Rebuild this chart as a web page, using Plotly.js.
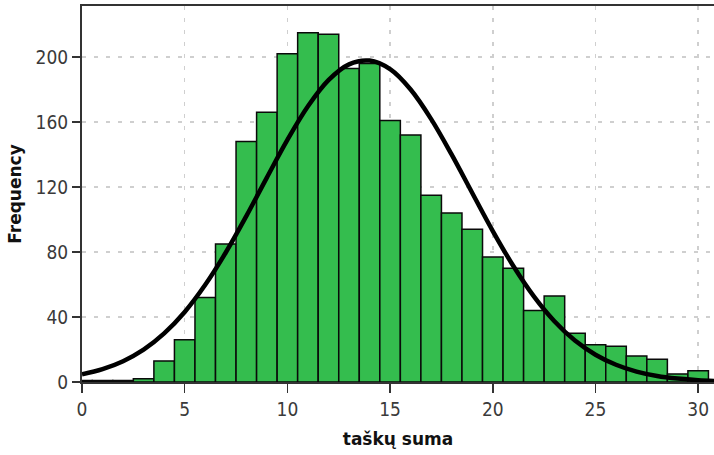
<!DOCTYPE html>
<html>
<head>
<meta charset="utf-8">
<script src="https://cdn.plot.ly/plotly-3.0.1.min.js"></script>
<style>html,body{margin:0;padding:0;background:#fff;}#chart{width:714px;height:455px;}</style>
</head>
<body>
<div id="chart"></div>
<script>
// Histogram bins (centres) and frequencies
const binCenters = [0,1,2,3,4,5,6,7,8,9,10,11,12,13,14,15,16,17,18,19,20,21,22,23,24,25,26,27,28,29,30];
const frequencies = [1,1,1,2,13,26,52,85,148,166,202,215,214,193,196,161,152,115,104,94,77,70,44,53,30,23,22,16,14,5,7];
// Normal curve points
const curveX = [0,1,2,3,4,5,6,7,8,9,10,11,12,13,14,15,16,17,18,19,20,21,22,23,24,25,26,27,28,29,30,31];
const curveY = [4.7,7.9,12.8,19.9,29.9,43.1,59.8,79.7,102.1,125.8,149.0,169.7,185.8,195.5,197.8,192.5,180.0,161.8,139.9,116.3,92.9,71.4,52.7,37.4,25.5,16.8,10.6,6.4,3.7,2.1,1.1,0.6];
const xTicks = [0,5,10,15,20,25,30];
const yTicks = [0,40,80,120,160,200];
const xTitle = "taškų suma";
const yTitle = "Frequency";

const tickFont = {family: "'Liberation Sans Narrow', 'DejaVu Sans Condensed', 'Liberation Sans', sans-serif", size: 19, color: '#3a3a3a'};
const titleFont = {family: "'DejaVu Sans', sans-serif", size: 17, color: '#111', weight: 'bold'};

const data = [
  {type: 'bar', x: binCenters, y: frequencies, width: 1,
   marker: {color: 'rgb(52,189,78)', line: {color: '#0a0a0a', width: 1.5}},
   hoverinfo: 'none'},
  {type: 'scatter', mode: 'lines', x: curveX, y: curveY,
   line: {color: '#000', width: 4.5, shape: 'spline'}, hoverinfo: 'none'}
];

const layout = {
  width: 714, height: 455,
  margin: {l: 82, r: 0, t: 6, b: 73},
  paper_bgcolor: '#fff', plot_bgcolor: '#fff',
  showlegend: false, bargap: 0,
  xaxis: {
    range: [0, 30.77], tickvals: xTicks, ticktext: xTicks.map(String),
    showgrid: true, gridcolor: '#cfcfcf', gridwidth: 1.5, griddash: '4px,8px',
    zeroline: false, showline: true, linecolor: '#333', linewidth: 2, mirror: true,
    ticks: 'outside', ticklen: 9, tickwidth: 1.5, tickcolor: '#333',
    tickfont: tickFont,
    title: {text: xTitle, font: titleFont, standoff: 14}
  },
  yaxis: {
    range: [0, 231.4], tickvals: yTicks, ticktext: yTicks.map(String),
    showgrid: true, gridcolor: '#cfcfcf', gridwidth: 1.5, griddash: '4px,8px',
    zeroline: false, showline: true, linecolor: '#333', linewidth: 2,
    ticks: 'outside', ticklen: 8, tickwidth: 1.5, tickcolor: '#333',
    tickfont: tickFont,
    title: {text: yTitle, font: titleFont, standoff: 10}
  }
};

Plotly.newPlot('chart', data, layout, {staticPlot: true, displayModeBar: false});
</script>
</body>
</html>
